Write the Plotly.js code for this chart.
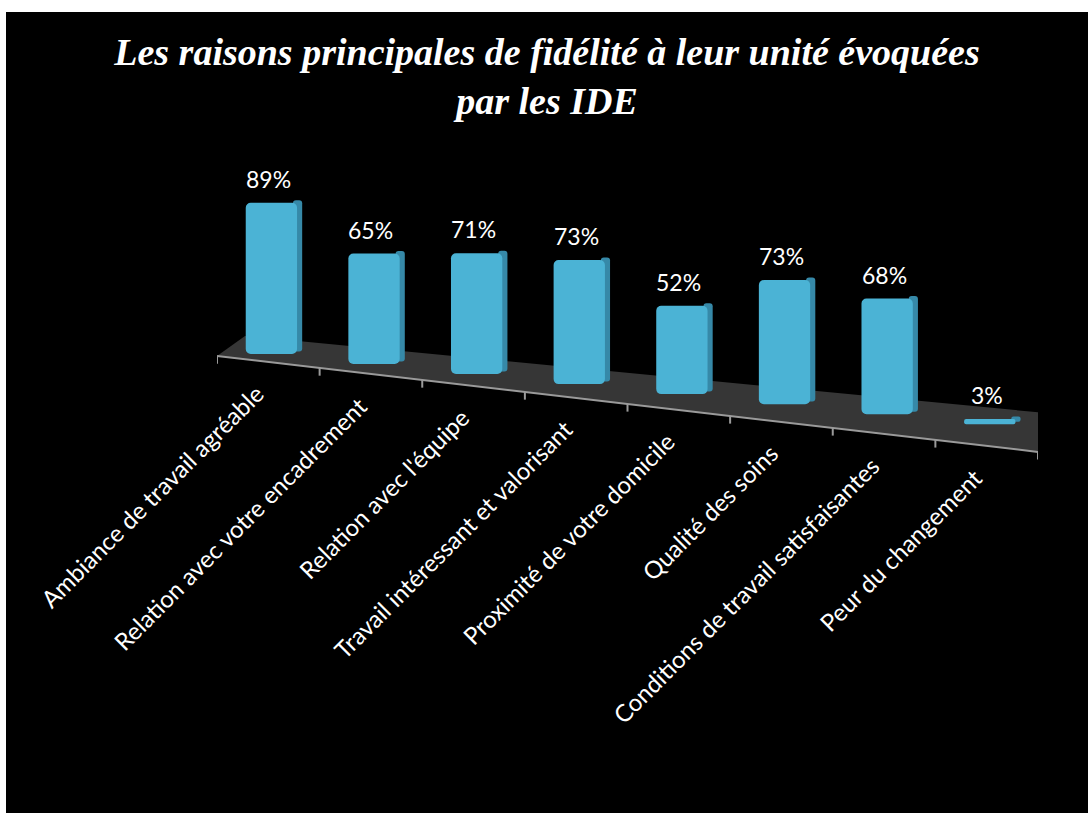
<!DOCTYPE html>
<html>
<head>
<meta charset="utf-8">
<script src="https://cdn.plot.ly/plotly-3.0.1.min.js"></script>
<style>
  html, body { margin: 0; padding: 0; background: #ffffff; }
  #chart { position: absolute; left: 6px; top: 12px; width: 1082px; height: 801px; }
</style>
</head>
<body>
<div id="chart"></div>
<script>
// ---- data ----
const categories = [
  "Ambiance de travail agréable",
  "Relation avec votre encadrement",
  "Relation avec l'équipe",
  "Travail intéressant et valorisant",
  "Proximité de votre domicile",
  "Qualité des soins",
  "Conditions de travail satisfaisantes",
  "Peur du changement"
];
const values = [89, 65, 71, 73, 52, 73, 68, 3];
const valueLabels = ["89%", "65%", "71%", "73%", "52%", "73%", "68%", "3%"];
const chartTitle = "Les raisons principales de fidélité à leur unité évoquées<br>par les IDE";

// ---- pseudo-3D floor geometry (in axis units) ----
const idx = categories.map((c, i) => i);
const baseSlope = 5.9;                       // floor tilt seen in perspective
const bases = idx.map(i => -baseSlope * i);
const frontY = x => -1.2 - 7.05 * (x + 0.5);
const backY = x => 10.6 - 5.81 * (x + 0.227);
const xL = -0.5, xR = categories.length - 0.5;

const faceColor = "#4bb3d5";
const sideColor = "#3689a8";

const sideTrace = {
  type: "bar", x: idx, y: values, base: bases.map(b => b + 1.5),
  width: 0.09, offset: 0.24,
  marker: { color: sideColor, cornerradius: 3, line: { width: 0 } },
  hoverinfo: "skip", showlegend: false
};
const frontTrace = {
  type: "bar", x: idx, y: values, base: bases,
  width: 0.5, offset: -0.22,
  marker: { color: faceColor, cornerradius: 5, line: { width: 0 } },
  hoverinfo: "skip", showlegend: false
};

const shapes = [];
// floor
shapes.push({
  type: "path", xref: "x", yref: "y", layer: "below",
  path: `M ${xL},${frontY(xL)} L ${xL + 0.273},${backY(xL + 0.273)} L ${xR + 0.07},${backY(xR + 0.07)} L ${xR},${frontY(xR)} Z`,
  fillcolor: "#363636", line: { width: 0 }
});
// front edge
shapes.push({
  type: "line", xref: "x", yref: "y", layer: "below",
  x0: xL, y0: frontY(xL), x1: xR, y1: frontY(xR),
  line: { color: "#9a9a9a", width: 2 }
});
// ticks
for (let j = 0; j <= categories.length; j++) {
  const xt = xL + j;
  shapes.push({
    type: "line", xref: "x", yref: "y", layer: "below",
    x0: xt, y0: frontY(xt), x1: xt, y1: frontY(xt) - 4.5,
    line: { color: "#9a9a9a", width: 2 }
  });
}

const annotations = [];
// value labels
idx.forEach(i => {
  annotations.push({
    x: i, y: bases[i] + values[i], xref: "x", yref: "y",
    text: valueLabels[i], showarrow: false,
    xanchor: "center", yanchor: "bottom", xshift: 0, yshift: 8,
    font: { family: "Lato, 'Open Sans', sans-serif", size: 23, color: "#ffffff" }
  });
});
// category labels (rotated)
idx.forEach(i => {
  annotations.push({
    x: i, y: frontY(i), xref: "x", yref: "y",
    text: categories[i], showarrow: false, textangle: -45,
    xanchor: "right", yanchor: "top", xshift: 4, yshift: -14,
    font: { family: "Lato, 'Open Sans', sans-serif", size: 24, color: "#ffffff" }
  });
});

const layout = {
  width: 1082, height: 801,
  paper_bgcolor: "#000000", plot_bgcolor: "rgba(0,0,0,0)",
  margin: { l: 211, r: 50, t: 172, b: 340 },
  title: {
    text: chartTitle, x: 0.5, xref: "container", xanchor: "center",
    y: 0.934, yref: "container", yanchor: "top",
    font: { family: "'Liberation Serif', 'Times New Roman', serif", size: 38, color: "#ffffff", weight: "bold", style: "italic" }
  },
  barmode: "overlay",
  xaxis: { range: [xL, xR], visible: false, fixedrange: true },
  yaxis: { range: [-70, 100], visible: false, fixedrange: true },
  shapes: shapes,
  annotations: annotations,
  showlegend: false
};

Plotly.newPlot("chart", [sideTrace, frontTrace], layout, { displayModeBar: false, staticPlot: true });
</script>
</body>
</html>
